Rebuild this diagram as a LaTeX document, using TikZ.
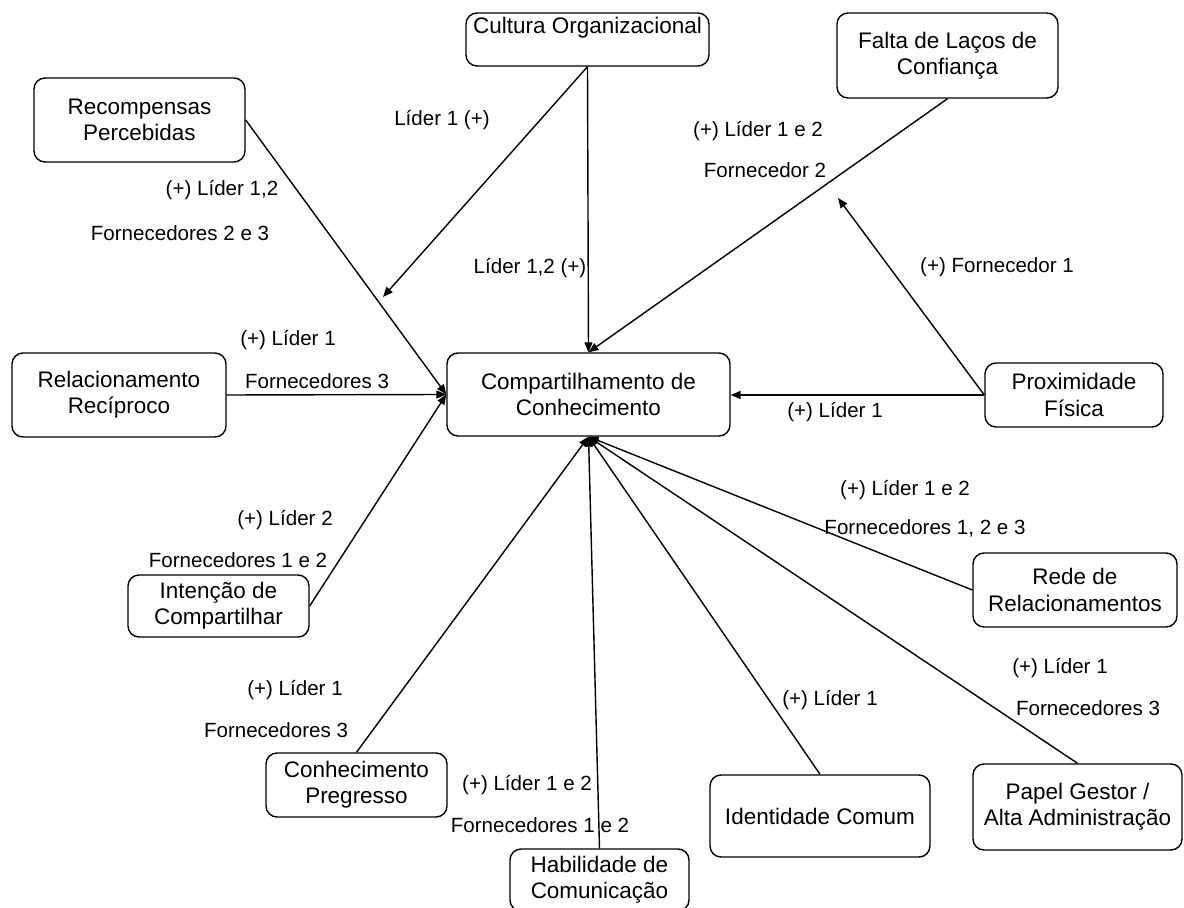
\documentclass[tikz,border=0pt]{standalone}
\usepackage{fontspec}
\setmainfont{Liberation Sans}
\usetikzlibrary{arrows.meta, positioning}

\begin{document}
\begin{tikzpicture}[x=0.02cm, y=-0.02cm, ->, >={Triangle[length=2mm,width=1.6mm]},
		box/.style={draw, rounded corners=0.22cm, line width=0.8pt, align=center, inner sep=0pt,
			font=\fontsize{12.8}{15}\selectfont},
		lbl/.style={inner sep=0pt, font=\fontsize{11.7}{14}\selectfont},
		arr/.style={line width=0.8pt}]
			\useasboundingbox (0,0) rectangle (1184,908);
			% Central concept
			\node[box, minimum width=283*0.02cm, minimum height=83*0.02cm] (comp) at (588.5,394.5) {Compartilhamento de\\Conhecimento};
			
			% Surrounding factors
			\node[box, minimum width=243*0.02cm, minimum height=53*0.02cm] (cult) at (587.5,39.5) {Cultura Organizacional\\[1pt]~};
			\node[box, minimum width=221*0.02cm, minimum height=85*0.02cm] (falta) at (947.5,55.5) {Falta de Laços de\\Confiança};
			\node[box, minimum width=211*0.02cm, minimum height=84*0.02cm] (recomp) at (139.5,120) {Recompensas\\Percebidas};
			\node[box, minimum width=214*0.02cm, minimum height=84*0.02cm] (relac) at (119,395) {Relacionamento\\Recíproco};
			\node[box, minimum width=178*0.02cm, minimum height=64*0.02cm] (prox) at (1074,395) {Proximidade\\Física};
			\node[box, minimum width=181*0.02cm, minimum height=62*0.02cm] (inten) at (218.5,606) {Intenção de\\Compartilhar};
			\node[box, minimum width=204*0.02cm, minimum height=74*0.02cm] (rede) at (1075,590) {Rede de\\Relacionamentos};
			\node[box, minimum width=181*0.02cm, minimum height=64*0.02cm] (pregr) at (356.5,785) {Conhecimento\\Pregresso};
			\node[box, minimum width=220*0.02cm, minimum height=82*0.02cm] (ident) at (820,816) {Identidade Comum};
			\node[box, minimum width=209*0.02cm, minimum height=86*0.02cm] (papel) at (1077.5,807) {Papel Gestor /\\Alta Administração};
			\node[box, minimum width=179*0.02cm, minimum height=62*0.02cm] (habil) at (599.5,880) {Habilidade de\\Comunicação};
			
			% Loose arrow ends
			\coordinate (cultEnd) at (383,297);
			\coordinate (proxEnd) at (838,198);
			
			% Edges into the centre
			\draw[arr] (cult.south) -- (comp.north);
			\draw[arr] (cult.south) -- (cultEnd);
			\draw[arr] (falta.south) -- (comp.north);
			\draw[arr] (recomp.east) -- (comp.west);
			\draw[arr] (relac.east) -- (comp.west);
			\draw[arr] (inten.east) -- (comp.west);
			\draw[arr] (prox.west) -- (comp.east |- prox.west);
			\draw[arr] (prox.west) -- (proxEnd);
			\draw[arr] (rede.west) -- (comp.south);
			\draw[arr] (pregr.north) -- (comp.south);
			\draw[arr] (habil.north) -- (comp.south);
			\draw[arr] (ident.north) -- (comp.south);
			\draw[arr] (papel.north) -- (comp.south);
			
			% Labels
			\node[lbl] (lCult) at (442,120) {Líder 1 (+)};
			\node[lbl] (lCultComp) at (530,268) {Líder 1,2 (+)};
			\node[lbl] (lFaltaA) at (758,131) {(+) Líder 1 e 2};
			\node[lbl] (lFaltaB) at (765,170) {Fornecedor 2};
			\node[lbl] (lProxA) at (997,267) {(+) Fornecedor 1};
			\node[lbl] (lProxB) at (835,412) {(+) Líder 1};
			\node[lbl] (lRecompA) at (222,190) {(+) Líder 1,2};
			\node[lbl] (lRecompB) at (180,233) {Fornecedores 2 e 3};
			\node[lbl] (lRelacA) at (288,340) {(+) Líder 1};
			\node[lbl] (lRelacB) at (317,381) {Fornecedores 3};
			\node[lbl] (lIntenA) at (285,520) {(+) Líder 2};
			\node[lbl] (lIntenB) at (238,560) {Fornecedores 1 e 2};
			\node[lbl] (lRedeA) at (905,490) {(+) Líder 1 e 2};
			\node[lbl] (lRedeB) at (925,528) {Fornecedores 1, 2 e 3};
			\node[lbl] (lPregrA) at (295,690) {(+) Líder 1};
			\node[lbl] (lPregrB) at (276,730) {Fornecedores 3};
			\node[lbl] (lHabilA) at (527,785) {(+) Líder 1 e 2};
			\node[lbl] (lHabilB) at (540,825) {Fornecedores 1 e 2};
			\node[lbl] (lIdent) at (830,700) {(+) Líder 1};
			\node[lbl] (lPapelA) at (1060,668) {(+) Líder 1};
			\node[lbl] (lPapelB) at (1088,708) {Fornecedores 3};
		\end{tikzpicture}
\end{document}
